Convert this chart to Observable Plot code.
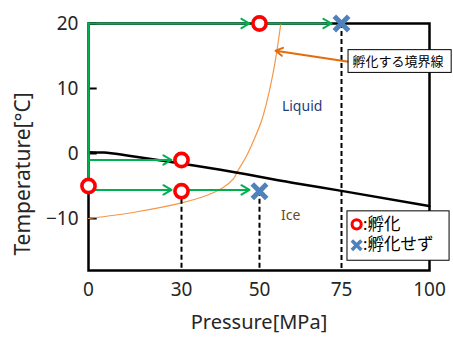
<!DOCTYPE html>
<html><head><meta charset="utf-8">
<script src="https://cdn.jsdelivr.net/npm/d3@7"></script>
<script src="https://cdn.jsdelivr.net/npm/@observablehq/plot@0.6"></script>
<style>
body{margin:0;background:#fff}
#chart{width:453px;height:340px}
</style>
</head><body><div id="chart"></div>
<script>
// tick values
const xTicks = [0, 30, 50, 75, 100];
const yTicks = [20, 10, 0, -10];
// liquid / ice boundary (black line)
const phaseP = [0, 5, 13, 24, 40, 60, 75, 100];
const phaseT = [0.2, 0.15, -0.35, -1.1, -2.5, -4.5, -5.75, -8.1];
// hatching boundary (orange curve)
const hatchP = [0, 15.2, 30, 36.2, 40.5, 43.3, 44.4, 46.7, 48.5, 50.6, 52.3, 54, 55.3, 56.5];
const hatchT = [-10, -9, -7.6, -6.5, -5.3, -3.9, -2.7, -0.35, 2, 5, 8.1, 12, 15.8, 20];
// hatched (red circles)
const hatchedP = [0, 30, 30, 50];
const hatchedT = [-5, -1, -5.8, 20];
// not hatched (blue crosses)
const notP = [50, 75];
const notT = [-5.8, 20];
// dashed drop lines
const dropP = [30, 50, 75];
const dropT = [-5.8, -5.8, 20];
// green arrows (start -> end)
const arrP1 = [0, 50, 0, 0, 30];
const arrT1 = [20, 20, -1, -5.6, -5.6];
const arrP2 = [50, 75, 30, 30, 50];
const arrT2 = [20, 20, -1, -5.6, -5.6];
// green vertical path along the axis
const pathP = [0, 0];
const pathT = [-5, 20];
// texts
const regionLabels = ["Liquid", "Ice"];
const regionP = [63, 59.5];
const regionT = [7.3, -9.6];
const calloutText = "孵化する境界線";
const legendLabels = [":孵化", ":孵化せず"];

const zip = (a, b) => a.map((v, i) => ({p: v, t: b[i]}));
const phase = zip(phaseP, phaseT);
const hatchCurve = zip(hatchP, hatchT);
const hatched = zip(hatchedP, hatchedT);
const notHatched = zip(notP, notT);
const drops = zip(dropP, dropT);
const arrows = arrP1.map((v, i) => ({p1: v, t1: arrT1[i], p2: arrP2[i], t2: arrT2[i]}));
const gpath = zip(pathP, pathT);
const regions = regionLabels.map((s, i) => ({s, p: regionP[i], t: regionT[i]}));

const GREEN = "#00b050", RED = "#ff0000", BLUE = "#4f81bd", ORANGE = "#f79646", ORANGE_D = "#e46c0a";

const chart = Plot.plot({
  width: 453, height: 340,
  marginLeft: 88, marginRight: 24, marginTop: 23, marginBottom: 70,
  style: {fontFamily: "'Noto Sans','Noto Sans CJK JP',sans-serif", color: "#262626", background: "white"},
  x: {type: "linear", domain: xTicks, range: [88, 181, 259, 341, 429]},
  y: {domain: [-18, 20]},
  marks: [
    Plot.frame({stroke: "black", strokeWidth: 2.5}),
    Plot.ruleY(yTicks, {x1: 0, x2: 2.8, stroke: "black", strokeWidth: 2}),
    Plot.axisX(xTicks, {tickSize: 0, tickPadding: 12, fontSize: 19, label: null}),
    Plot.axisY(yTicks, {tickSize: 0, tickPadding: 10, fontSize: 19, label: null}),
    Plot.text(["Pressure[MPa]"], {frameAnchor: "bottom", textAnchor: "middle", dy: 58, fontSize: 20}),
    Plot.text(["Temperature[°C]"], {frameAnchor: "left", textAnchor: "middle", rotate: -90, dx: -65, dy: 27, fontSize: 21}),
    Plot.line(hatchCurve, {x: "p", y: "t", stroke: ORANGE, strokeWidth: 1.2, curve: "catmull-rom"}),
    Plot.line(phase, {x: "p", y: "t", stroke: "black", strokeWidth: 2.5, curve: "monotone-x"}),
    Plot.ruleX(drops, {x: "p", y1: "t", y2: -18, stroke: "black", strokeWidth: 2, strokeDasharray: "5,3"}),
    Plot.line(gpath, {x: "p", y: "t", stroke: GREEN, strokeWidth: 2.5}),
    Plot.arrow(arrows, {x1: "p1", y1: "t1", x2: "p2", y2: "t2", stroke: GREEN, strokeWidth: 2, headLength: 7, headAngle: 60, insetStart: 0, insetEnd: 10}),
    Plot.dot(hatched, {x: "p", y: "t", r: 6.6, stroke: RED, strokeWidth: 3.6, fill: "white"}),
    Plot.dot(notHatched, {x: "p", y: "t", r: 6.6, symbol: "times", stroke: BLUE, strokeWidth: 5}),
    Plot.text(regions, {x: "p", y: "t", text: "s", fontSize: 14, fill: (d) => d.s === "Liquid" ? "#1f3c78" : "#6b4a1f"}),
    // callout
    Plot.arrow([{p1: 77, t1: 14.1, p2: 54.9, t2: 15.8}], {x1: "p1", y1: "t1", x2: "p2", y2: "t2", stroke: ORANGE_D, strokeWidth: 2, headLength: 6, headAngle: 60}),
    Plot.rect([{x1: 77, x2: 106.3, y1: 15.9, y2: 12.4}], {x1: "x1", x2: "x2", y1: "y1", y2: "y2", fill: "white", stroke: "black", strokeWidth: 1}),
    Plot.text([calloutText], {x: 78.1, y: 14.1, textAnchor: "start", fontSize: 13, fill: "black"}),
    // legend
    Plot.rect([{x1: 76.7, x2: 105.7, y1: -8.9, y2: -16.5}], {x1: "x1", x2: "x2", y1: "y1", y2: "y2", fill: "white", stroke: "black", strokeWidth: 1}),
    Plot.dot([{p: 79.3, t: -10.9}], {x: "p", y: "t", r: 4.6, stroke: RED, strokeWidth: 3, fill: "white"}),
    Plot.dot([{p: 79.3, t: -14.1}], {x: "p", y: "t", r: 4.4, symbol: "times", stroke: BLUE, strokeWidth: 3.5}),
    Plot.text(legendLabels, {x: 81.1, y: (d, i) => i === 0 ? -10.9 : -14.1, textAnchor: "start", fontSize: 16.5, fill: "black"})
  ]
});
document.getElementById("chart").appendChild(chart);
</script>
</body></html>
